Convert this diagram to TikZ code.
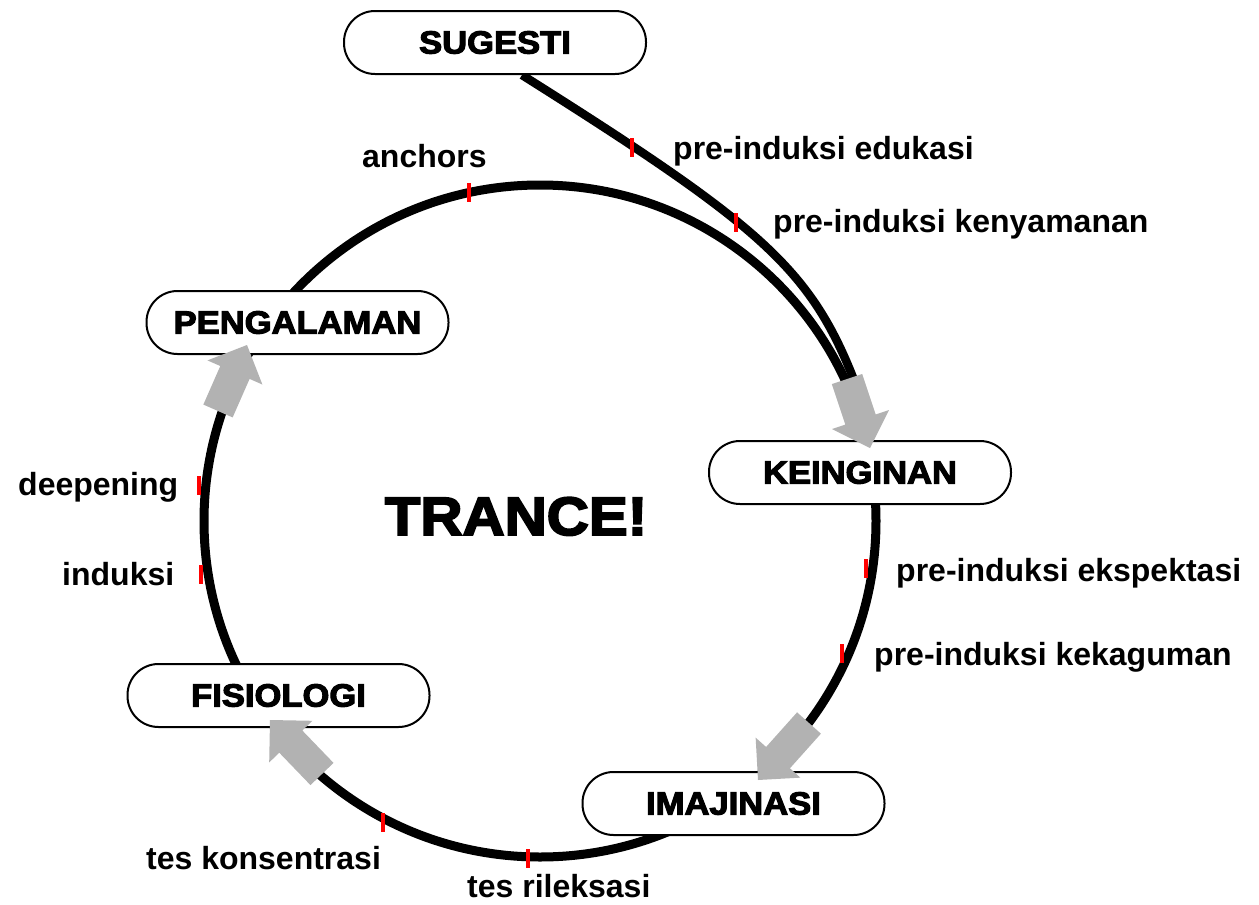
\documentclass[tikz,border=0pt]{standalone}
\usepackage{fontspec}
\setmainfont{Liberation Sans}
\newfontfamily\heavyfont[FakeBold=3.5,FakeStretch=1.08]{Liberation Sans Bold}
\usetikzlibrary{calc}
\definecolor{arrowgray}{RGB}{178,178,178}
\definecolor{markred}{RGB}{255,0,0}
\pgfdeclarelayer{bg}
\pgfdeclarelayer{fg}
\pgfsetlayers{bg,main,fg}

% thick gray block arrow from tail #1 to tip #2
\newcommand\grayarrow[2]{%
  \coordinate (#1-h) at ($(#2)!30pt!(#1)$);
  \fill[arrowgray] ($(#1)!16pt!90:(#2)$) -- ($(#1-h)!16pt!90:(#2)$)
    -- ($(#1-h)!30pt!90:(#2)$) -- (#2) -- ($(#1-h)!30pt!-90:(#2)$)
    -- ($(#1-h)!16pt!-90:(#2)$) -- ($(#1)!16pt!-90:(#2)$) -- cycle;}

\begin{document}
\begin{tikzpicture}[x=1pt,y=-1pt,
  stage/.style={draw=black, line width=2pt, fill=white, rounded corners=31pt,
    minimum width=302pt, minimum height=63pt, inner sep=0pt,
    font=\heavyfont\fontsize{32}{32}\selectfont},
  ring/.style={line width=9pt, draw=black},
  cue/.style={anchor=base west, inner sep=0pt, font=\bfseries\fontsize{32}{38}\selectfont},
  redmark/.style={fill=markred, rectangle, minimum width=4pt, minimum height=19pt, inner sep=0pt}
]
\useasboundingbox (0,0) rectangle (1259,905);

% stages of the cycle
\node[stage] (sugesti)    at (495,42.5)   {SUGESTI};
\node[stage] (keinginan)  at (860,472.5)  {KEINGINAN};
\node[stage] (pengalaman) at (297.5,322.5){PENGALAMAN};
\node[stage] (imajinasi)  at (733.5,803.5){IMAJINASI};
\node[stage] (fisiologi)  at (278.5,695.5){FISIOLOGI};

\node[anchor=base, inner sep=0pt, font=\heavyfont\fontsize{54}{54}\selectfont] (trance) at (516,535) {TRANCE!};

% arrow tails and tips
\coordinate (k-tail) at (847,379);  \coordinate (k-tip) at (870,448);
\coordinate (i-tail) at (809,723);  \coordinate (i-tip) at (758,780);
\coordinate (f-tail) at (322,774);  \coordinate (f-tip) at (270,720);
\coordinate (p-tail) at (218,411);  \coordinate (p-tip) at (247,345);
\coordinate (entry) at (854,380);

% the ring and the entry path
\begin{pgfonlayer}{bg}
  \coordinate (hub) at (540,521);
  \draw[ring] (hub) circle[radius=336pt];
  \draw[ring, line width=8.5pt] ($(sugesti.south)+(27,0)$) .. controls (760,225) and (810,268) .. (entry);
\end{pgfonlayer}

% steps along the way
\node[redmark] (m1) at (632,147) {};
\node[redmark] (m2) at (736,222) {};
\node[redmark] (m3) at (469,192) {};
\node[redmark] (m4) at (199,485) {};
\node[redmark] (m5) at (201,574) {};
\node[redmark] (m6) at (866,568) {};
\node[redmark] (m7) at (842,653) {};
\node[redmark] (m8) at (383,822) {};
\node[redmark] (m9) at (528,858) {};

\node[cue] at (673,159) {pre-induksi edukasi};
\node[cue] at (773,232.5) {pre-induksi kenyamanan};
\node[cue] at (362,167) {anchors};
\node[cue] at (18,495.5) {deepening};
\node[cue] at (62,585) {induksi};
\node[cue] at (896,581) {pre-induksi ekspektasi};
\node[cue] at (874,665) {pre-induksi kekaguman};
\node[cue] at (146,869) {tes konsentrasi};
\node[cue] at (467,897) {tes rileksasi};

\begin{pgfonlayer}{fg}
  \grayarrow{k-tail}{k-tip}
  \grayarrow{i-tail}{i-tip}
  \grayarrow{f-tail}{f-tip}
  \grayarrow{p-tail}{p-tip}
\end{pgfonlayer}
\end{tikzpicture}
\end{document}
